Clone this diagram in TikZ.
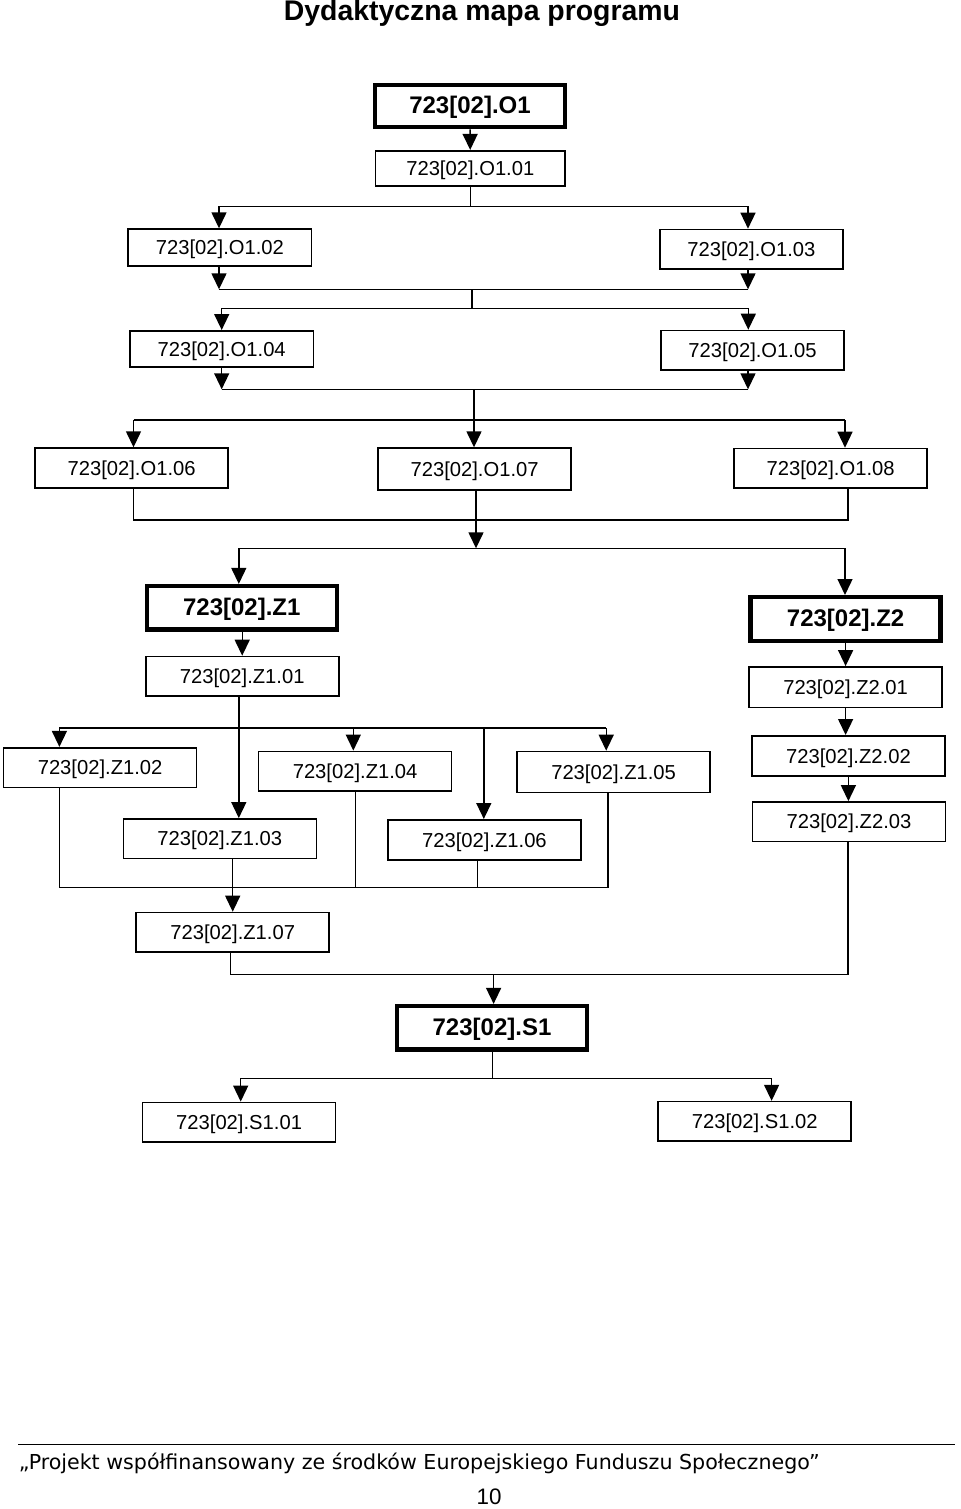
\documentclass[tikz,border=0pt]{standalone}
\usepackage{fontspec}
\setmainfont{Liberation Sans}
\newfontfamily\footfont{DejaVu Sans}
\usetikzlibrary{arrows.meta}

\tikzset{
  box/.style={draw, line width=0.8pt, minimum width=96.5pt, minimum height=19.8pt, inner sep=0pt, text height=0.72em, text depth=0pt, font=\fontsize{10.1}{12}\selectfont},
  mainbox/.style={box, line width=2.2pt, minimum width=95pt, minimum height=21.7pt, font=\bfseries\fontsize{12}{14}\selectfont},
  arr/.style={-{Triangle[length=8pt,width=7.5pt]}, line width=0.7pt},
  lin/.style={line width=0.7pt}
}

\begin{document}
\begin{tikzpicture}[x=0.5pt, y=-0.5pt]
\useasboundingbox (0,0) rectangle (960,1509);

\node[font=\bfseries\fontsize{14.2}{16}\selectfont] (title) at (482,13) {Dydaktyczna mapa programu};

% modul O1
\node[mainbox, minimum height=21.1pt] (O1) at (470,106) {723[02].O1};
\node[box, minimum width=94.7pt, minimum height=17.6pt] (O101) at (470.3,168.3) {723[02].O1.01};
\node[box, minimum width=91.7pt, minimum height=18.4pt] (O102) at (219.9,247.5) {723[02].O1.02};
\node[box, minimum width=91.7pt] (O103) at (751.4,249.3) {723[02].O1.03};
\node[box, minimum width=91.7pt, minimum height=18pt] (O104) at (221.7,348.8) {723[02].O1.04};
\node[box, minimum width=91.7pt] (O105) at (752.5,350.3) {723[02].O1.05};
\node[box, minimum height=20pt] (O106) at (131.6,468.1) {723[02].O1.06};
\node[box, minimum height=20.9pt] (O107) at (474.6,469) {723[02].O1.07};
\node[box] (O108) at (830.6,468.3) {723[02].O1.08};

% modul Z1 i Z2
\node[mainbox] (Z1) at (241.8,607.8) {723[02].Z1};
\node[box] (Z101) at (242.2,676.3) {723[02].Z1.01};
\node[mainbox, minimum height=22pt] (Z2) at (845.6,619.2) {723[02].Z2};
\node[box, minimum height=20.3pt] (Z201) at (845.6,687.2) {723[02].Z2.01};
\node[box] (Z102) at (100.1,767.5) {723[02].Z1.02};
\node[box] (Z104) at (355.1,771.2) {723[02].Z1.04};
\node[box, minimum height=20.5pt] (Z105) at (613.6,772) {723[02].Z1.05};
\node[box] (Z103) at (219.8,838.7) {723[02].Z1.03};
\node[box, minimum height=20pt] (Z106) at (484.4,839.8) {723[02].Z1.06};
\node[box, minimum height=20pt] (Z202) at (848.4,755.8) {723[02].Z2.02};
\node[box] (Z203) at (849,821.7) {723[02].Z2.03};
\node[box] (Z107) at (232.7,932.3) {723[02].Z1.07};

% modul S1
\node[mainbox] (S1) at (492,1027.8) {723[02].S1};
\node[box] (S101) at (239.1,1122.2) {723[02].S1.01};
\node[box] (S102) at (754.7,1121.4) {723[02].S1.02};

% polaczenia O1
\coordinate (a1) at (219,206.7);
\coordinate (a2) at (748,206.7);
\draw[arr] (O1) -- (O101);
\draw[arr] (O101.south) -- (O101.south |- a1) -- (a1) -- (a1 |- O102.north);
\draw[arr] (O101.south |- a2) -- (a2) -- (a2 |- O103.north);

\coordinate (b0) at (472,289.3);
\coordinate (b1) at (219,289.3);
\coordinate (b2) at (748,289.3);
\draw[arr] (b1 |- O102.south) -- (b1);
\draw[arr] (b2 |- O103.south) -- (b2);
\draw[lin] (b1) -- (b2);

\coordinate (c1) at (221.7,308.3);
\coordinate (c2) at (748.3,308.3);
\draw[lin] (b0) -- (b0 |- c1);
\draw[lin] (c1) -- (c2);
\draw[arr] (c1) -- (c1 |- O104.north);
\draw[arr] (c2) -- (c2 |- O105.north);

\coordinate (d0) at (474,389.3);
\coordinate (d1) at (221.7,389.3);
\coordinate (d2) at (748,389.3);
\draw[arr] (d1 |- O104.south) -- (d1);
\draw[arr] (d2 |- O105.south) -- (d2);
\draw[lin] (d1) -- (d2);

\coordinate (e1) at (133.5,420);
\coordinate (e2) at (474,420);
\coordinate (e3) at (845,420);
\draw[lin] (d0) -- (e2);
\draw[lin] (e1) -- (e3);
\draw[arr] (e1) -- (e1 |- O106.north);
\draw[arr] (e2) -- (e2 |- O107.north);
\draw[arr] (e3) -- (e3 |- O108.north);

\coordinate (f1) at (133.5,520);
\coordinate (f2) at (848,520);
\draw[lin] (f1 |- O106.south) -- (f1) -- (f2) -- (f2 |- O108.south);

% polaczenia Z1 i Z2
\coordinate (g0) at (476,548.3);
\coordinate (g1) at (238.8,548.3);
\coordinate (g2) at (845,548.3);
\draw[arr] (g0 |- O107.south) -- (g0);
\draw[lin] (g1) -- (g2);
\draw[arr] (g1) -- (g1 |- Z1.north);
\draw[arr] (g2) -- (g2 |- Z2.north);

\draw[arr] (Z1.south -| Z101.north) -- (Z101.north);
\draw[arr] (Z2.south -| Z201.north) -- (Z201.north);
\draw[arr] (Z201.south) -- (Z201.south |- Z202.north);
\draw[arr] (Z202.south) -- (Z202.south |- Z203.north);

\coordinate (h1) at (59.4,728);
\coordinate (h2) at (238.8,728);
\coordinate (h3) at (353.3,728);
\coordinate (h4) at (483.8,728);
\coordinate (h5) at (606.2,728);
\draw[lin] (h2 |- Z101.south) -- (h2);
\draw[lin] (h1) -- (h5);
\draw[arr] (h1) -- (h1 |- Z102.north);
\draw[arr] (h2) -- (h2 |- Z103.north);
\draw[arr] (h3) -- (h3 |- Z104.north);
\draw[arr] (h4) -- (h4 |- Z106.north);
\draw[arr] (h5) -- (h5 |- Z105.north);

\coordinate (i1) at (59.4,887.3);
\coordinate (i2) at (355.2,887.3);
\coordinate (i3) at (477.6,887.3);
\coordinate (i4) at (608,887.3);
\draw[lin] (i1 |- Z102.south) -- (i1) -- (i4) -- (i4 |- Z105.south);
\draw[lin] (i2 |- Z104.south) -- (i2);
\draw[lin] (i3 |- Z106.south) -- (i3);
\draw[arr] (Z103.south -| Z107.north) -- (Z107.north);

% polaczenia S1
\coordinate (k0) at (493.6,974.3);
\coordinate (k1) at (230.2,974.3);
\coordinate (k2) at (848,974.3);
\draw[lin] (k1 |- Z107.south) -- (k1) -- (k2) -- (k2 |- Z203.south);
\draw[arr] (k0) -- (k0 |- S1.north);

\coordinate (l0) at (492.3,1078.3);
\coordinate (l1) at (240.7,1078.3);
\coordinate (l2) at (771.6,1078.3);
\draw[lin] (l0 |- S1.south) -- (l0);
\draw[lin] (l1) -- (l2);
\draw[arr] (l1) -- (l1 |- S101.north);
\draw[arr] (l2) -- (l2 |- S102.north);

% stopka
\coordinate (r1) at (18.4,1444.3);
\coordinate (r2) at (955,1444.3);
\draw[line width=0.8pt] (r1) -- (r2);
\node[anchor=west, inner sep=0pt, font=\footfont\fontsize{10.3}{12}\selectfont] (foot) at (18.4,1463) {„Projekt współfinansowany ze środków Europejskiego Funduszu Społecznego”};
\node[font=\fontsize{11.2}{13}\selectfont] (pnum) at (489,1497) {10};
\end{tikzpicture}
\end{document}
